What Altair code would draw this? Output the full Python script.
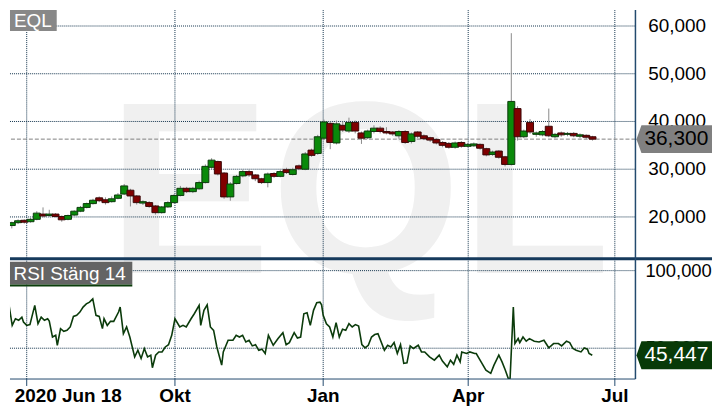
import altair as alt
import pandas as pd
import numpy as np

# ---------------- data ----------------
candle_start = "2020-06-21 18:00"
candle_step = "93h"
open_ = [18.2, 18.8, 19.3, 19.0, 19.5, 20.6, 20.3, 20.6, 20.1, 19.5,
         20.4, 21.2, 22.0, 22.8, 24.0, 23.6, 23.2, 23.9, 24.8, 25.6,
         24.4, 22.9, 23.0, 22.3, 20.9, 22.1, 23.0, 24.5, 26.0, 25.3,
         25.9, 27.2, 30.4, 31.6, 29.2, 24.2, 27.0, 28.6, 29.5, 28.8,
         28.0, 27.2, 29.1, 28.5, 29.9, 28.9, 30.7, 30.0, 34.0, 33.3,
         36.5, 39.6, 35.5, 39.2, 38.0, 39.8, 37.6, 36.6, 37.9, 38.6,
         37.9, 37.8, 37.0, 37.9, 35.8, 37.8, 37.0, 36.6, 36.2, 35.6,
         35.4, 34.6, 35.6, 34.8, 34.9, 35.2, 34.3, 33.1, 33.8, 32.6,
         31.0, 42.7, 36.8, 39.8, 37.3, 37.2, 39.0, 36.8, 37.6, 37.3,
         37.5, 36.9, 37.1, 36.8]
high = [19.0, 19.5, 19.5, 19.8, 21.2, 22.0, 21.5, 20.8, 20.3, 20.5,
        21.4, 22.3, 23.0, 23.8, 24.3, 24.1, 24.3, 25.0, 26.9, 25.9,
        24.6, 23.5, 23.3, 22.5, 22.3, 23.3, 24.8, 26.5, 26.3, 26.3,
        27.6, 31.0, 32.3, 31.8, 29.4, 27.3, 28.8, 29.9, 29.9, 29.0,
        28.2, 29.3, 29.4, 29.9, 30.3, 30.3, 31.0, 33.6, 34.3, 37.2,
        40.4, 40.0, 40.2, 40.0, 40.8, 40.2, 37.9, 38.3, 39.2, 39.0,
        38.8, 38.0, 38.2, 38.2, 37.7, 38.0, 37.3, 36.8, 36.5, 35.9,
        35.7, 35.8, 35.9, 35.5, 35.6, 35.4, 34.5, 33.9, 34.0, 32.8,
        58.5, 43.2, 38.3, 40.5, 37.9, 38.2, 42.7, 37.6, 37.9, 37.8,
        37.8, 37.5, 37.3, 37.0]
low = [17.6, 18.5, 18.6, 18.8, 19.3, 19.9, 20.0, 19.9, 19.0, 19.3,
       20.2, 21.0, 21.8, 22.6, 23.1, 22.6, 23.0, 23.7, 24.6, 22.2,
       22.6, 22.5, 21.9, 20.5, 20.7, 21.9, 22.8, 24.3, 25.0, 25.0,
       25.7, 27.0, 30.0, 28.7, 23.8, 23.4, 26.8, 28.3, 28.4, 27.5,
       26.9, 26.2, 28.2, 28.3, 29.0, 28.7, 29.8, 29.8, 32.6, 33.0,
       36.2, 34.2, 35.2, 37.8, 37.6, 37.5, 35.3, 36.3, 37.5, 37.5,
       37.3, 37.0, 36.4, 35.3, 35.4, 36.5, 36.1, 35.7, 35.2, 34.6,
       34.3, 34.3, 34.5, 34.6, 34.7, 34.1, 32.7, 32.8, 32.2, 30.6,
       30.8, 36.0, 36.5, 37.4, 36.8, 36.9, 36.7, 36.5, 36.8, 36.9,
       36.7, 36.5, 36.3, 36.0]
close = [18.8, 19.2, 18.9, 19.5, 20.8, 20.2, 20.6, 20.1, 19.4, 20.3,
         21.2, 22.0, 22.8, 23.5, 23.4, 23.0, 23.8, 24.6, 26.5, 24.4,
         23.0, 23.2, 22.2, 20.9, 22.1, 23.0, 24.5, 26.0, 25.3, 26.0,
         27.2, 30.6, 31.9, 29.0, 24.2, 26.9, 28.5, 29.5, 28.8, 28.0,
         27.2, 29.0, 28.5, 29.5, 29.3, 29.9, 30.1, 33.2, 32.9, 36.8,
         39.9, 35.6, 39.5, 38.2, 39.8, 38.0, 36.5, 38.0, 38.6, 37.9,
         37.6, 37.4, 37.9, 35.6, 37.4, 36.9, 36.4, 36.1, 35.5, 35.0,
         34.6, 35.5, 34.8, 35.2, 35.3, 34.4, 33.0, 33.6, 32.5, 31.0,
         44.2, 36.8, 38.0, 37.8, 37.6, 37.9, 37.0, 37.3, 37.2, 37.5,
         37.0, 37.2, 36.7, 36.3]

rsi_base = "2020-07-01"
rsi_day = [-11, -9, -7, -5, -3, -2, 0, 2, 5, 7, 9, 11, 13, 14, 16, 18, 19, 21, 23, 25,
           27, 29, 31, 33, 35, 37, 39, 41, 43, 45, 47, 48, 50, 52, 54, 57, 58, 60, 62, 64,
           67, 69, 71, 73, 75, 77, 78, 80, 82, 84, 86, 88, 90, 92, 95, 97, 99, 102, 104, 107,
           108, 110, 112, 114, 116, 118, 121, 122, 125, 128, 130, 132, 134,
           136, 138, 140, 142, 144, 146, 148, 150, 153, 156, 159, 161, 163, 166, 168,
           170, 172, 174, 176, 178, 180, 182, 183, 184, 186, 188, 190, 192, 194, 196,
           198, 200, 202, 204, 206, 208, 210, 212, 214, 216, 218, 222, 224, 226, 228,
           230, 232, 234, 236, 238, 240, 243, 245, 247, 250, 253, 256, 258, 261, 263,
           265, 267, 269, 270, 273, 275, 278,
           279, 282, 285, 288, 290, 293, 295, 297, 299, 300, 302, 303, 305, 306, 308,
           310, 312, 315, 318, 321, 323, 324, 327, 330, 332, 335, 337, 339, 341, 344,
           346, 348, 349, 351]
rsi_val = [78.0, 64.7, 69, 68, 70, 66.9, 64.7, 65.2, 77.6, 65.8, 70, 68, 69, 67.5, 57.2,
           58.3, 51.9, 62.6, 60.9, 61.5, 63.7, 70.5, 71.2, 73.3, 76.5, 78.6, 79.7, 81.8,
           71.2, 70.5, 62.6, 69, 64.7, 67.3, 67.3, 73.3, 76.5, 59.4, 63.7, 57.2, 44.4,
           48.7, 43.4, 49.8, 44.4, 45.5, 37.4, 45.5, 47.6, 47.6, 50.8, 52.3, 58.3, 69,
           63.7, 64.7, 63.7, 69, 72.2, 77.6, 64.7, 74.4, 78, 63.7, 61.5, 50.8, 39.1, 47.6,
           55.1, 55.1, 58.3, 57.2, 58.3,
           54, 55.1, 51.5, 52.3, 48.7, 49.4, 46.6, 58.3, 51.9, 56.2, 60, 52.3, 53.6, 60,
           56.6, 57.2, 72.2, 72.8, 64.7, 74.4, 79.3, 79.7, 78, 71.2, 65.8, 63.7, 57.2,
           66.5, 57.2, 62.2, 61.5, 65.8, 63.7, 65.2, 64.3, 52.3, 50.2, 51.9, 57.2, 58.8,
           59.4, 48.7, 51.9, 50.8, 53.6, 46.6, 52.3, 40.2, 40.6, 51.5, 49.8, 51.9, 47.6,
           47.6, 44.4, 42.3, 45.5, 41.7, 38, 42.3, 39.6, 45.5, 41.2, 47.6, 46.6, 47.6, 46.6,
           46.6, 41.2, 35.9, 33.8, 39.1, 45.5, 41.2, 35.9, 30.1, 30.6, 76.5, 53, 56.2, 53.6,
           57.2, 54.5, 56.2, 54.5, 54, 55.1, 51.9, 50.2, 53, 53, 51.5, 54.5, 53.6, 49.8,
           48.7, 47.6, 50.2, 49.4, 46.6, 45.447]

price_ticks = [20, 30, 40, 50, 60]
rsi_ticks = [50, 100]
x_tick_dates = ["2020-07-01", "2020-10-01", "2021-01-01", "2021-04-01", "2021-07-01"]
x_tick_labels = ["2020 Jun 18", "Okt", "Jan", "Apr", "Jul"]
x_domain = ["2020-06-23 17:00", "2021-07-10 17:00"]
price_panel = [11.25, 63.33]   # visible price range of the upper panel
rsi_panel = [30.13, 107.69]    # visible RSI range of the lower panel
main_title = "EQL"
rsi_title = "RSI Stäng 14"

# ---------------- styles / layout ----------------
FONT = "Liberation Sans"
NAVY = "#234a6e"
GRID = "#12334d"
W, H_TOP, H_RSI = 629, 250, 121
H = H_TOP + H_RSI
RIGHT = 706                      # total drawing width (fits the 722px page with its margins)
FMT = "%Y-%m-%dT%H:%M:%S"

p_lo, p_hi = price_panel
price_domain = [p_lo - H_RSI * (p_hi - p_lo) / H_TOP, p_hi]
r_lo, r_hi = rsi_panel
rsi_domain = [r_lo, r_hi + H_TOP * (r_hi - r_lo) / H_RSI]


def sek(v):
    return f"{v:.3f}".replace(".", ",")


dates = pd.date_range(candle_start, periods=len(close), freq=candle_step).strftime(FMT)
candles = pd.DataFrame({"date": dates, "open": open_, "high": high, "low": low, "close": close})
candles["dir"] = np.where(candles["close"] >= candles["open"], "up", "down")

rsi_dates = (pd.Timestamp(rsi_base) + pd.to_timedelta(rsi_day, unit="D")).strftime(FMT)
rsi = pd.DataFrame({"date": rsi_dates, "rsi": rsi_val})

xticks = pd.DataFrame({"date": [pd.Timestamp(d).strftime(FMT) for d in x_tick_dates],
                       "lab": x_tick_labels})
pgrid = pd.DataFrame({"v": price_ticks, "lab": [sek(v) for v in price_ticks]})
rgrid = pd.DataFrame({"v": rsi_ticks, "lab": [sek(v) for v in rsi_ticks]})
one = pd.DataFrame({"k": [0]})
last_price = pd.DataFrame({"v": [close[-1]], "lab": [sek(close[-1])]})
last_rsi = pd.DataFrame({"v": [rsi_val[-1]], "lab": [sek(rsi_val[-1])]})

x0, x1 = (pd.Timestamp(s) for s in x_domain)
xscale = alt.Scale(domain=[alt.DateTime(year=x0.year, month=x0.month, date=x0.day, hours=x0.hour),
                           alt.DateTime(year=x1.year, month=x1.month, date=x1.day, hours=x1.hour)],
                   nice=False)
pscale = alt.Scale(domain=price_domain, nice=False, zero=False)
rscale = alt.Scale(domain=rsi_domain, nice=False, zero=False)

X = lambda: alt.X("date:T", scale=xscale, axis=None)
PY = lambda f: alt.Y(f, scale=pscale, axis=None)
RY = lambda f: alt.Y(f, scale=rscale, axis=None)
tag_len = (RIGHT - (W + 1)) / 14.0
TAG = f"M0,0L0.36,-1L{tag_len:.3f},-1L{tag_len:.3f},1L0.36,1Z"

# ---------------- background ----------------
watermark = alt.Chart(one).mark_text(
    text=main_title, font=FONT, fontSize=246, fontWeight="bold", color="#f0f0f0",
    align="center", baseline="alphabetic"
).encode(x=alt.value(351), y=alt.value(264))

vgrid_l = alt.Chart(xticks).mark_rule(color=GRID, strokeDash=[1, 1], strokeWidth=1).encode(x=X())

# x axis drawn by hand
x_domain_line = alt.Chart(one).mark_rule(color=NAVY, strokeWidth=1).encode(
    x=alt.value(0), x2=alt.value(W), y=alt.value(H))
x_ticks = alt.Chart(xticks).mark_rule(color=NAVY, strokeWidth=1).encode(
    x=X(), y=alt.value(H), y2=alt.value(H + 7))
x_first = alt.Chart(xticks.iloc[:1]).mark_text(
    font=FONT, fontSize=19, fontWeight="bold", color="black", align="left",
    baseline="top", dx=-12).encode(x=X(), y=alt.value(H + 8), text="lab:N")
x_rest = alt.Chart(xticks.iloc[1:]).mark_text(
    font=FONT, fontSize=19, fontWeight="bold", color="black", align="center",
    baseline="top").encode(x=X(), y=alt.value(H + 8), text="lab:N")

# ---------------- price panel ----------------
p_hgrid = alt.Chart(pgrid).mark_rule(color=GRID, strokeDash=[1, 1], strokeWidth=1).encode(y=PY("v:Q"))
p_labels = alt.Chart(pgrid).mark_text(font=FONT, fontSize=19, color="black", align="left",
                                      baseline="middle").encode(
    x=alt.value(W + 13), y=PY("v:Q"), text="lab:N")
p_last = alt.Chart(last_price).mark_rule(color="#808080", strokeDash=[4, 2], strokeWidth=1).encode(
    y=PY("v:Q"))
wicks = alt.Chart(candles).mark_rule(color="#8a8a8a", strokeWidth=1, clip=True).encode(
    x=X(), y=PY("low:Q"), y2="high:Q")
bodies = alt.Chart(candles).mark_bar(size=7, strokeWidth=1, clip=True).encode(
    x=X(), y=PY("open:Q"), y2="close:Q",
    fill=alt.Fill("dir:N", scale=alt.Scale(domain=["up", "down"], range=["#0a8a0a", "#800000"]), legend=None),
    stroke=alt.Stroke("dir:N", scale=alt.Scale(domain=["up", "down"], range=["#0c3a0c", "#3a0808"]), legend=None))
p_tag = alt.Chart(last_price).mark_point(shape=TAG, size=784, filled=True, fill="#808080",
                                         strokeWidth=0, opacity=1).encode(
    x=alt.value(W + 1), y=PY("v:Q"))
p_tag_txt = alt.Chart(last_price).mark_text(font=FONT, fontSize=21, color="black",
                                            align="left", baseline="middle").encode(
    x=alt.value(W + 9), y=PY("v:Q"), text="lab:N")
price_layer = alt.layer(p_hgrid, p_labels, p_last, wicks, bodies, p_tag, p_tag_txt)

# ---------------- RSI panel ----------------
r_hgrid = alt.Chart(rgrid).mark_rule(color=GRID, strokeDash=[1, 1], strokeWidth=1).encode(y=RY("v:Q"))
r_labels = alt.Chart(rgrid).mark_text(font=FONT, fontSize=18.5, color="black", align="left",
                                      baseline="middle").encode(
    x=alt.value(W + 10), y=RY("v:Q"), text="lab:N")
rsi_line = alt.Chart(rsi).mark_line(color="#0b3b0b", strokeWidth=1.6, clip=True).encode(
    x=X(), y=RY("rsi:Q"))
r_tag = alt.Chart(last_rsi).mark_point(shape=TAG, size=784, filled=True, fill="#083a08",
                                       strokeWidth=0, opacity=1).encode(
    x=alt.value(W + 1), y=RY("v:Q"))
r_tag_txt = alt.Chart(last_rsi).mark_text(font=FONT, fontSize=21, color="white",
                                          align="left", baseline="middle").encode(
    x=alt.value(W + 9), y=RY("v:Q"), text="lab:N")
rsi_layer = alt.layer(r_hgrid, r_labels, rsi_line, r_tag, r_tag_txt)

# ---------------- decorations ----------------
right_line = alt.Chart(one).mark_rule(color=NAVY, strokeWidth=1.5).encode(
    x=alt.value(W), y=alt.value(0), y2=alt.value(H))
separator = alt.Chart(one).mark_rule(color="#163a5c", strokeWidth=3).encode(
    x=alt.value(0), x2=alt.value(RIGHT), y=alt.value(H_TOP))
eql_box = alt.Chart(one).mark_rect(color="#888888").encode(
    x=alt.value(0), x2=alt.value(47), y=alt.value(0), y2=alt.value(21))
eql_txt = alt.Chart(one).mark_text(text=main_title, font=FONT, fontSize=19, color="white",
                                   align="center", baseline="middle").encode(
    x=alt.value(23), y=alt.value(11))
rsi_box = alt.Chart(one).mark_rect(color="#646464").encode(
    x=alt.value(0), x2=alt.value(123), y=alt.value(H_TOP + 3), y2=alt.value(H_TOP + 26))
rsi_box_line = alt.Chart(one).mark_rect(color="#0b3d0b").encode(
    x=alt.value(0), x2=alt.value(123), y=alt.value(H_TOP + 26), y2=alt.value(H_TOP + 28))
rsi_txt = alt.Chart(one).mark_text(text=rsi_title, font=FONT, fontSize=19, color="white",
                                   align="center", baseline="middle").encode(
    x=alt.value(60), y=alt.value(H_TOP + 15))

chart = alt.layer(
    watermark, vgrid_l, price_layer, separator, rsi_layer, right_line,
    x_domain_line, x_ticks, x_first, x_rest,
    eql_box, eql_txt, rsi_box, rsi_box_line, rsi_txt
).resolve_scale(y="independent").properties(
    width=W, height=H, padding=0
).configure_view(strokeWidth=0)

chart.save("out.html", embed_options={"renderer": "svg", "actions": False})
